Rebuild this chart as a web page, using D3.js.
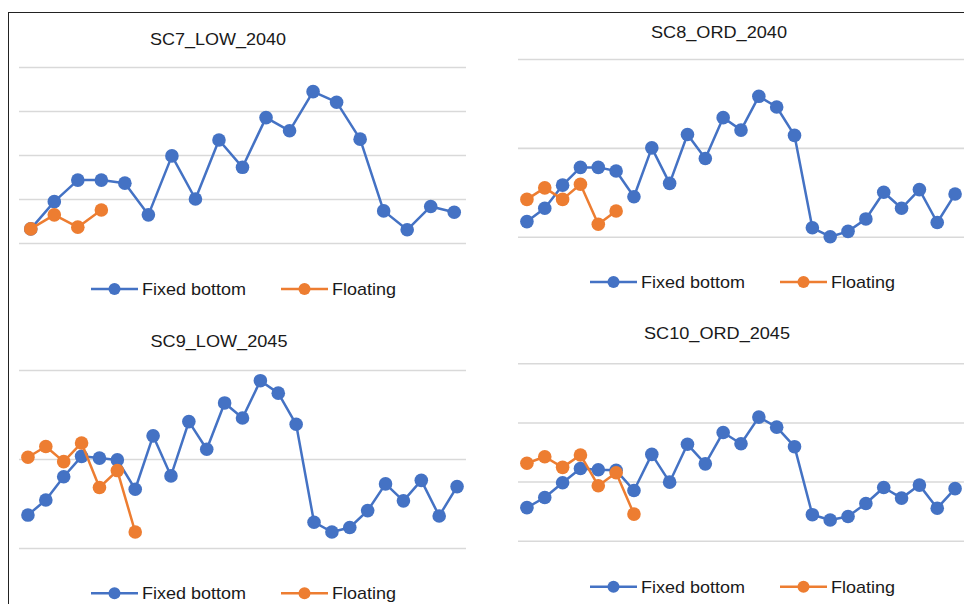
<!DOCTYPE html>
<html>
<head>
<meta charset="utf-8">
<script src="https://cdn.jsdelivr.net/npm/d3@7"></script>
<style>
  html, body { margin: 0; padding: 0; background: #fff; }
  svg { display: block; }
  text { font-family: "Liberation Sans", Arial, sans-serif; fill: #1a1a1a; }
</style>
</head>
<body>
<svg id="chart" width="964" height="604"></svg>
<script>
// ---------- DATA ----------
const seriesNames = ["Fixed bottom", "Floating"];

const titles = ["SC7_LOW_2040", "SC8_ORD_2040", "SC9_LOW_2045", "SC10_ORD_2045"];

const categories19 = ["1","2","3","4","5","6","7","8","9","10","11","12","13","14","15","16","17","18","19"];
const categories25 = ["1","2","3","4","5","6","7","8","9","10","11","12","13","14","15","16","17","18","19","20","21","22","23","24","25"];

// SC7_LOW_2040
const sc7Fixed    = [0.32, 0.94, 1.43, 1.43, 1.36, 0.64, 1.98, 1.00, 2.34, 1.72, 2.85, 2.55, 3.44, 3.20, 2.36, 0.73, 0.30, 0.83, 0.70];
const sc7Floating = [0.32, 0.64, 0.36, 0.75];
const sc7Ticks    = [0, 1, 2, 3, 4];

// SC8_ORD_2040
const sc8Fixed    = [0.17, 0.32, 0.58, 0.78, 0.78, 0.74, 0.45, 1.00, 0.60, 1.15, 0.88, 1.34, 1.20, 1.58, 1.46, 1.14, 0.10, 0.00, 0.06, 0.20, 0.50, 0.32, 0.53, 0.16, 0.48];
const sc8Floating = [0.42, 0.55, 0.42, 0.59, 0.14, 0.29];
const sc8Ticks    = [0, 1, 2];

// SC9_LOW_2045
const sc9Fixed    = [0.37, 0.54, 0.80, 1.03, 1.01, 0.99, 0.66, 1.26, 0.81, 1.42, 1.11, 1.63, 1.46, 1.88, 1.74, 1.39, 0.29, 0.18, 0.23, 0.42, 0.72, 0.53, 0.76, 0.36, 0.69];
const sc9Floating = [1.02, 1.14, 0.97, 1.18, 0.68, 0.87, 0.18];
const sc9Ticks    = [0, 1, 2];

// SC10_ORD_2045
const sc10Fixed    = [0.56, 0.73, 0.98, 1.22, 1.20, 1.19, 0.85, 1.46, 0.99, 1.63, 1.30, 1.83, 1.64, 2.09, 1.92, 1.59, 0.44, 0.35, 0.41, 0.63, 0.90, 0.72, 0.94, 0.55, 0.88];
const sc10Floating = [1.31, 1.42, 1.24, 1.45, 0.93, 1.15, 0.45];
const sc10Ticks    = [0, 1, 2, 3];

// ---------- LAYOUT ----------
const colors = { fixed: "#4472C4", floating: "#ED7D31", grid: "#D9D9D9" };

const panels = [
  { title: titles[0], cats: categories19, fixed: sc7Fixed,  floating: sc7Floating,  ticks: sc7Ticks,
    x0: 19,  x1: 466, yBottom: 243,   yTop: 67,
    titleX: 218, titleY: 45,  titleLen: 136,
    legendY: 289, legendX: 91 },
  { title: titles[1], cats: categories25, fixed: sc8Fixed,  floating: sc8Floating,  ticks: sc8Ticks,
    x0: 518, x1: 964, yBottom: 236.7, yTop: 59,
    titleX: 719, titleY: 37.5, titleLen: 136,
    legendY: 282, legendX: 590 },
  { title: titles[2], cats: categories25, fixed: sc9Fixed,  floating: sc9Floating,  ticks: sc9Ticks,
    x0: 19,  x1: 466, yBottom: 548,   yTop: 370,
    titleX: 219, titleY: 346.5, titleLen: 137,
    legendY: 593.3, legendX: 91 },
  { title: titles[3], cats: categories25, fixed: sc10Fixed, floating: sc10Floating, ticks: sc10Ticks,
    x0: 518, x1: 964, yBottom: 540.7, yTop: 363.3,
    titleX: 717, titleY: 339, titleLen: 146,
    legendY: 586.7, legendX: 590 }
];

const svg = d3.select("#chart");

// outer frame (left and top border lines)
svg.append("line").attr("x1", 8.5).attr("x2", 8.5).attr("y1", 12.5).attr("y2", 604)
  .attr("stroke", "#222").attr("stroke-width", 1);
svg.append("line").attr("x1", 8).attr("x2", 964).attr("y1", 12.5).attr("y2", 12.5)
  .attr("stroke", "#222").attr("stroke-width", 1);

panels.forEach(p => {
  const g = svg.append("g");
  const x = d3.scalePoint().domain(p.cats).range([p.x0, p.x1]).padding(0.5);
  const yMax = p.ticks[p.ticks.length - 1];
  const y = d3.scaleLinear().domain([0, yMax]).range([p.yBottom, p.yTop]);

  // gridlines via axis
  const axis = d3.axisLeft(y).tickValues(p.ticks).tickSize(-(p.x1 - p.x0)).tickFormat("");
  const ag = g.append("g").attr("transform", `translate(${p.x0},0)`).call(axis);
  ag.select(".domain").remove();
  ag.selectAll(".tick line").attr("stroke", colors.grid).attr("stroke-width", 1.6);

  // title
  g.append("text").attr("x", p.titleX).attr("y", p.titleY)
    .attr("text-anchor", "middle").attr("font-size", 17)
    .attr("textLength", p.titleLen).attr("lengthAdjust", "spacingAndGlyphs")
    .text(p.title);

  const line = d3.line().x((d, i) => x(p.cats[i])).y(d => y(d));

  [["fixed", p.fixed], ["floating", p.floating]].forEach(([key, vals]) => {
    const c = colors[key];
    g.append("path").datum(vals).attr("d", line)
      .attr("fill", "none").attr("stroke", c).attr("stroke-width", 2.5)
      .attr("stroke-linejoin", "round");
    g.selectAll(null).data(vals).enter().append("circle")
      .attr("cx", (d, i) => x(p.cats[i])).attr("cy", d => y(d))
      .attr("r", 6.8).attr("fill", c);
  });

  // legend
  const lg = g.append("g").attr("transform", `translate(${p.legendX},${p.legendY})`);
  const items = [
    { name: seriesNames[0], color: colors.fixed,    dx: 0,   len: 104 },
    { name: seriesNames[1], color: colors.floating, dx: 190, len: 64 }
  ];
  items.forEach(it => {
    const ig = lg.append("g").attr("transform", `translate(${it.dx},0)`);
    ig.append("line").attr("x1", 0).attr("x2", 47).attr("y1", 0).attr("y2", 0)
      .attr("stroke", it.color).attr("stroke-width", 2.5);
    ig.append("circle").attr("cx", 23.5).attr("cy", 0).attr("r", 6).attr("fill", it.color);
    ig.append("text").attr("x", 51).attr("y", 6).attr("font-size", 17)
      .attr("textLength", it.len).attr("lengthAdjust", "spacingAndGlyphs")
      .text(it.name);
  });
});
</script>
</body>
</html>
